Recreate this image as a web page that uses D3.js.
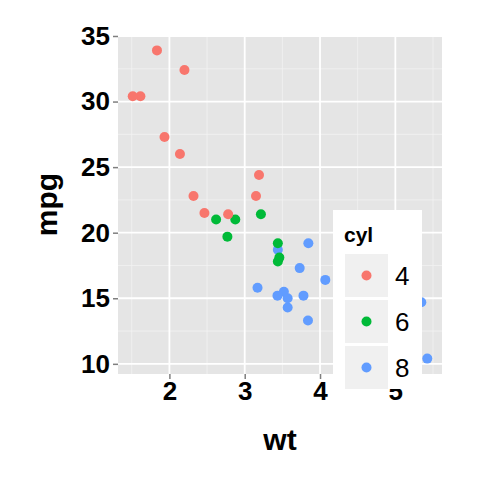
<!DOCTYPE html>
<html><head><meta charset="utf-8">
<script src="https://cdn.jsdelivr.net/npm/d3@7"></script>
<style>body{margin:0;background:#fff}text{font-family:"Liberation Sans",Arial,sans-serif}</style>
</head><body><div id="chart"></div>
<script>
var wt = [2.62,2.875,2.32,3.215,3.44,3.46,3.57,3.19,3.15,3.44,3.44,4.07,3.73,3.78,5.25,5.424,5.345,2.2,1.615,1.835,2.465,3.52,3.435,3.84,3.845,1.935,2.14,1.513,3.17,2.77,3.57,2.78];
var mpg = [21,21,22.8,21.4,18.7,18.1,14.3,24.4,22.8,19.2,17.8,16.4,17.3,15.2,10.4,10.4,14.7,32.4,30.4,33.9,21.5,15.5,15.2,13.3,19.2,27.3,26,30.4,15.8,19.7,15,21.4];
var cyl = [6,6,4,6,8,6,8,4,4,6,6,8,8,8,8,8,8,4,4,4,4,8,8,8,8,4,4,4,8,6,8,4];
var cylLevels = [4,6,8];
var colors = ["#F8766D","#00BA38","#619CFF"];
var xTicks = [2,3,4,5], yTicks = [10,15,20,25,30,35];
var xMinor = [1.5,2.5,3.5,4.5,5.5], yMinor = [12.5,17.5,22.5,27.5,32.5];

var svg = d3.select("#chart").append("svg").attr("width",480).attr("height",480);
var pLeft = 118, pRight = 442, pTop = 35, pBottom = 374;
var x = d3.scaleLinear().domain([1.3175,5.6195]).range([pLeft,pRight]);
var y = d3.scaleLinear().domain([9.225,35.075]).range([pBottom,pTop]);

svg.append("rect").attr("x",pLeft).attr("y",pTop).attr("width",pRight-pLeft).attr("height",pBottom-pTop).attr("fill","#E5E5E5");
var g = svg.append("g");
xMinor.forEach(function(t){ g.append("line").attr("x1",x(t)).attr("x2",x(t)).attr("y1",pTop).attr("y2",pBottom).attr("stroke","#F2F2F2").attr("stroke-width",0.8); });
yMinor.forEach(function(t){ g.append("line").attr("y1",y(t)).attr("y2",y(t)).attr("x1",pLeft).attr("x2",pRight).attr("stroke","#F2F2F2").attr("stroke-width",0.8); });
xTicks.forEach(function(t){ g.append("line").attr("x1",x(t)).attr("x2",x(t)).attr("y1",pTop).attr("y2",pBottom).attr("stroke","#fff").attr("stroke-width",1.8); });
yTicks.forEach(function(t){ g.append("line").attr("y1",y(t)).attr("y2",y(t)).attr("x1",pLeft).attr("x2",pRight).attr("stroke","#fff").attr("stroke-width",1.8); });

var color = d3.scaleOrdinal().domain(cylLevels).range(colors);
svg.selectAll("circle.pt").data(wt).enter().append("circle").attr("class","pt")
  .attr("cx",function(d){return x(d);}).attr("cy",function(d,i){return y(mpg[i]);})
  .attr("r",5).attr("fill",function(d,i){return color(cyl[i]);});

var xa = svg.append("g").attr("transform","translate(0,"+pBottom+")")
  .call(d3.axisBottom(x).tickValues(xTicks).tickFormat(d3.format("d")).tickSize(5).tickPadding(3));
var ya = svg.append("g").attr("transform","translate("+pLeft+",0)")
  .call(d3.axisLeft(y).tickValues(yTicks).tickFormat(d3.format("d")).tickSize(5).tickPadding(3));
[xa,ya].forEach(function(a){
  a.select(".domain").remove();
  a.selectAll(".tick line").attr("stroke","#7F7F7F").attr("stroke-width",1.5);
  a.selectAll("text").style("font-size","26px").style("font-weight","bold").attr("fill","#000");
});
svg.append("text").attr("x",(pLeft+pRight)/2).attr("y",450).attr("text-anchor","middle").style("font-size","30px").style("font-weight","bold").text("wt");
svg.append("text").attr("transform","translate(57,"+((pTop+pBottom)/2)+") rotate(-90)").attr("text-anchor","middle").style("font-size","30px").style("font-weight","bold").text("mpg");

// legend
var lg = svg.append("g");
lg.append("rect").attr("x",333).attr("y",210).attr("width",89).attr("height",179).attr("fill","#fff");
lg.append("text").attr("x",344).attr("y",242).style("font-size","21px").style("font-weight","bold").text("cyl");
cylLevels.forEach(function(c,i){
  var ky = 254 + i*46;
  lg.append("rect").attr("x",345).attr("y",ky).attr("width",43).attr("height",43).attr("fill","#F0F0F0");
  lg.append("circle").attr("cx",366.5).attr("cy",ky+21.5).attr("r",5).attr("fill",color(c));
  lg.append("text").attr("x",395).attr("y",ky+31).style("font-size","26px").text(c);
});
</script></body></html>
